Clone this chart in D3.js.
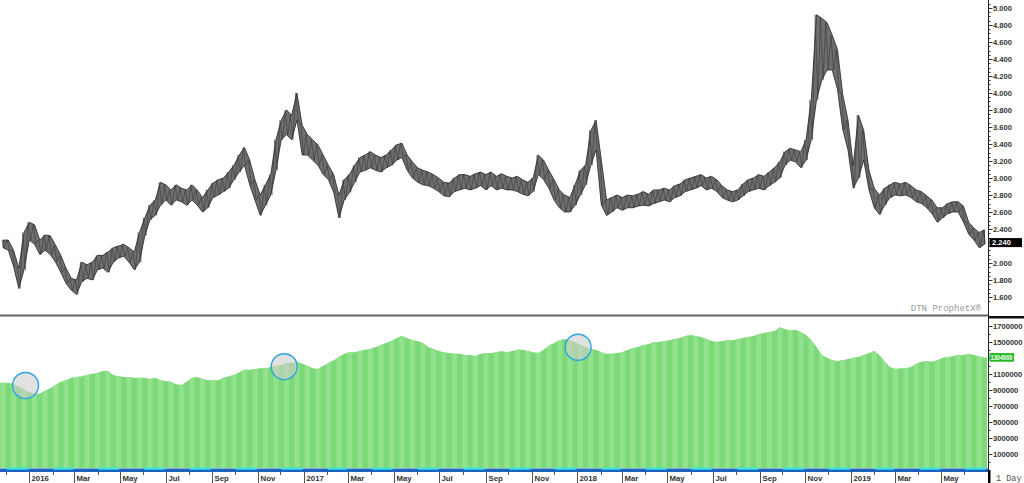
<!DOCTYPE html>
<html><head><meta charset="utf-8">
<script src="https://cdn.jsdelivr.net/npm/d3@7/dist/d3.min.js"></script>
<style>body{margin:0;background:#fff;}svg{display:block;}</style>
</head><body>
<svg id="chart" width="1024" height="483"></svg>
<script>
// ---------- DATA ----------
const firstWeekStart = [2015, 10, 27]; // weekly bars, one entry per week from this date
const priceHigh = [
2.27,2.27,2.15,1.94,2.36,2.48,2.45,2.27,2.33,2.32,
2.21,2.09,1.94,1.82,1.80,2.01,1.98,2.01,2.09,2.09,
2.13,2.18,2.20,2.22,2.18,2.13,2.36,2.53,2.68,2.74,
2.95,2.92,2.86,2.92,2.88,2.86,2.92,2.86,2.77,2.86,
2.94,2.98,3.00,3.07,3.15,3.27,3.36,3.21,2.98,2.80,
2.92,3.04,3.45,3.68,3.80,3.74,4.00,3.62,3.51,3.45,
3.39,3.27,3.15,3.04,2.80,2.98,3.04,3.15,3.24,3.27,
3.31,3.27,3.24,3.27,3.33,3.39,3.41,3.27,3.19,3.12,
3.09,3.07,3.04,3.00,2.95,2.94,3.00,3.04,3.04,3.02,
3.05,3.07,3.04,3.07,3.02,3.05,3.02,3.00,3.02,2.98,
2.95,3.00,3.27,3.21,3.09,2.98,2.86,2.80,2.77,2.92,
3.09,3.15,3.56,3.68,3.21,2.74,2.77,2.80,2.77,2.80,
2.79,2.81,2.84,2.81,2.86,2.86,2.88,2.86,2.91,2.93,
2.98,3.00,3.02,3.04,3.00,3.02,2.98,2.91,2.86,2.84,
2.86,2.93,2.98,3.00,3.04,3.02,3.07,3.12,3.19,3.31,
3.35,3.33,3.31,3.45,3.92,4.92,4.88,4.83,4.68,4.51,
3.98,3.68,3.15,3.74,3.56,3.09,2.88,2.80,2.88,2.92,
2.95,2.93,2.95,2.91,2.86,2.84,2.79,2.74,2.65,2.65,
2.70,2.72,2.72,2.67,2.48,2.41,2.36,2.39];
const priceLow = [
2.18,2.15,1.96,1.70,1.92,2.27,2.22,2.10,2.15,2.10,
2.01,1.89,1.76,1.68,1.63,1.78,1.82,1.80,1.92,1.94,
1.89,2.01,2.06,2.08,2.01,1.92,2.01,2.32,2.51,2.56,
2.68,2.74,2.68,2.74,2.72,2.68,2.74,2.68,2.60,2.65,
2.77,2.80,2.84,2.88,2.98,3.07,3.15,2.92,2.74,2.56,
2.68,2.80,3.09,3.45,3.51,3.45,3.68,3.27,3.27,3.21,
3.15,3.04,2.98,2.83,2.53,2.74,2.83,2.95,3.07,3.09,
3.12,3.09,3.07,3.12,3.15,3.21,3.24,3.09,3.00,2.95,
2.92,2.91,2.88,2.84,2.79,2.78,2.84,2.86,2.88,2.86,
2.88,2.91,2.86,2.91,2.86,2.88,2.86,2.86,2.84,2.81,
2.79,2.84,3.04,2.98,2.88,2.74,2.65,2.60,2.60,2.68,
2.80,2.92,3.15,3.33,2.68,2.56,2.60,2.65,2.62,2.65,
2.65,2.67,2.68,2.67,2.70,2.72,2.74,2.72,2.77,2.79,
2.84,2.86,2.88,2.91,2.86,2.88,2.84,2.77,2.74,2.72,
2.74,2.79,2.84,2.86,2.88,2.86,2.91,2.95,3.00,3.15,
3.21,3.19,3.12,3.21,3.45,3.92,4.15,4.27,4.27,4.04,
3.57,3.33,2.88,3.00,3.21,2.86,2.65,2.57,2.68,2.77,
2.80,2.79,2.80,2.77,2.72,2.70,2.65,2.58,2.48,2.53,
2.58,2.60,2.60,2.48,2.34,2.27,2.18,2.22];
const openInterest = [
990000,990000,970000,940000,900000,870000,850000,850000,890000,920000,
960000,1000000,1020000,1050000,1060000,1070000,1085000,1100000,1110000,1135000,
1135000,1085000,1070000,1060000,1060000,1050000,1050000,1050000,1035000,1050000,
1020000,1010000,1000000,970000,960000,1000000,1050000,1060000,1035000,1020000,
1020000,1020000,1050000,1070000,1085000,1120000,1150000,1150000,1160000,1170000,
1170000,1185000,1200000,1210000,1235000,1235000,1250000,1225000,1200000,1170000,
1160000,1200000,1235000,1270000,1310000,1350000,1370000,1370000,1385000,1400000,
1410000,1435000,1460000,1485000,1510000,1547000,1570000,1547000,1520000,1510000,
1485000,1435000,1410000,1385000,1370000,1360000,1350000,1350000,1335000,1335000,
1320000,1350000,1360000,1360000,1370000,1385000,1370000,1385000,1400000,1400000,
1385000,1370000,1360000,1400000,1450000,1485000,1520000,1535000,1520000,1497000,
1460000,1435000,1410000,1400000,1370000,1350000,1350000,1360000,1370000,1400000,
1420000,1435000,1460000,1470000,1497000,1497000,1510000,1520000,1535000,1547000,
1570000,1584000,1570000,1560000,1535000,1510000,1497000,1510000,1520000,1520000,
1535000,1547000,1560000,1570000,1597000,1610000,1620000,1634000,1680000,1660000,
1640000,1650000,1620000,1584000,1520000,1435000,1335000,1300000,1270000,1260000,
1270000,1285000,1300000,1310000,1335000,1360000,1385000,1335000,1250000,1185000,
1160000,1170000,1170000,1185000,1225000,1250000,1260000,1250000,1270000,1300000,
1310000,1320000,1335000,1335000,1350000,1335000,1320000,1304900];
const lastPrice = 2.240;
const lastOI = 1304900;
const priceTicks = [1.6,1.8,2.0,2.2,2.4,2.6,2.8,3.0,3.2,3.4,3.6,3.8,4.0,4.2,4.4,4.6,4.8,5.0];
const oiTicks = [100000,300000,500000,700000,900000,1100000,1300000,1500000,1700000];
const monthNames = ["Jan","Feb","Mar","Apr","May","Jun","Jul","Aug","Sep","Oct","Nov","Dec"];
const highlights = [
  {date:[2015,11,27], oi:955000},
  {date:[2016,11,6], oi:1189000},
  {date:[2018,0,2], oi:1431000}
];
const watermark = "DTN ProphetX\u00AE";
const periodLabel = "1 Day";

// ---------- LAYOUT ----------
const W = 1024, H = 483, axisX = 988.5;
const svg = d3.select("#chart");
const font = "'Liberation Sans', Arial, sans-serif";

const x = d3.scaleTime()
  .domain([new Date(2016,0,1), new Date(2019,0,1)])
  .range([29.3, 851]);
const yP = d3.scaleLinear().domain([1.6, 5.0]).range([297, 8]);
const yO = d3.scaleLinear().domain([100000, 1700000]).range([454, 325.7]);

const weeks = priceHigh.map((h,i)=>({
  date: new Date(firstWeekStart[0], firstWeekStart[1], firstWeekStart[2] + 7*i),
  hi: h, lo: priceLow[i], oi: openInterest[i], i
}));

// ---------- TOP PANEL: price ----------
const gTop = svg.append("g");
gTop.append("path")
  .datum(weeks)
  .attr("d", d3.area().x(d=>x(d.date)).y0(d=>yP(d.lo)).y1(d=>yP(d.hi)))
  .attr("fill","#6f6f6f").attr("stroke","#222").attr("stroke-width",0.8);
const zz = [];
weeks.forEach(d=>{ zz.push([x(d.date)-1.3, yP(d.hi)]); zz.push([x(d.date)+1.3, yP(d.lo)]); });
gTop.append("path").attr("d", d3.line()(zz)).attr("fill","none").attr("stroke","#2e2e2e").attr("stroke-width",0.5);

// watermark
svg.append("text").attr("x",981).attr("y",311).attr("text-anchor","end")
  .attr("font-family","'Liberation Mono', 'Courier New', monospace").attr("font-size",9)
  .attr("fill","#9a9a9a").text(watermark);

// ---------- BOTTOM PANEL: open interest ----------
const panelBottom = 468;
const gBot = svg.append("g");
const area = d3.area().x(d=>x(d.date)).y0(panelBottom).y1(d=>yO(d.oi));
const oiPts = [{date:x.invert(0), oi:openInterest[0]}].concat(weeks)
  .concat([{date:x.invert(987), oi:lastOI}]);
svg.append("clipPath").attr("id","oiclip").append("path").attr("d", area(oiPts));
gBot.append("path").attr("d", area(oiPts)).attr("fill","#7bd977");
const gStripes = gBot.append("g").attr("clip-path","url(#oiclip)");
weeks.forEach((d,i)=>{
  if (i%2===0) {
    gStripes.append("rect").attr("x",x(d.date) - 2.6).attr("y",316).attr("width",5.25).attr("height",panelBottom-316)
      .attr("fill","#91e18d");
  }
});

// highlight circles
svg.selectAll("circle.hl").data(highlights).join("circle")
  .attr("cx",d=>x(new Date(d.date[0],d.date[1],d.date[2])))
  .attr("cy",d=>yO(d.oi)).attr("r",13)
  .attr("fill","rgba(205,205,205,0.6)").attr("stroke","#2aa6de").attr("stroke-width",1.4);

// ---------- separators ----------
svg.append("rect").attr("x",0).attr("y",314.5).attr("width",axisX).attr("height",2).attr("fill","#666");
svg.append("rect").attr("x",axisX).attr("y",316).attr("width",W-axisX).attr("height",2.5).attr("fill","#111");

// ---------- bottom time band ----------
const months = d3.timeMonth.range(new Date(2015,10,1), new Date(2019,7,1));
svg.append("rect").attr("x",0).attr("y",468.5).attr("width",axisX).attr("height",3.5).attr("fill","#1a64c0");
months.forEach(m=>{
  const next = d3.timeMonth.offset(m,1);
  const a = Math.max(0,x(m)), b = Math.min(axisX,x(next));
  if (b<=a) return;
  if (m.getMonth()%2===1) {
    svg.append("rect").attr("x",a+1).attr("y",467.5).attr("width",b-a-2).attr("height",2.2).attr("fill","#3fe3e3");
  }
});
// x labels
const gX = svg.append("g");
months.forEach(m=>{
  const px = x(m);
  if (px < 0 || px > axisX-2) return;
  const labelled = m.getMonth()%2===0;
  gX.append("line").attr("x1",Math.round(px)+0.5).attr("x2",Math.round(px)+0.5)
    .attr("y1",472).attr("y2",labelled?483:475).attr("stroke","#555").attr("stroke-width",1);
  if (labelled) {
    gX.append("text").attr("x",Math.round(px)+2.5).attr("y",481)
      .attr("font-family",font).attr("font-weight","bold").attr("font-size",7.8).attr("fill","#333")
      .text(m.getMonth()===0 ? String(m.getFullYear()) : monthNames[m.getMonth()]);
  }
});

// ---------- right axes ----------
svg.append("line").attr("x1",axisX).attr("x2",axisX).attr("y1",0).attr("y2",470).attr("stroke","#222").attr("stroke-width",1);
d3.range(1.55, 5.051, 0.05).forEach(v=>{
  const yy = Math.round(yP(v))+0.5;
  if (yy<0 || yy>313) return;
  svg.append("line").attr("x1",axisX).attr("x2",axisX+2).attr("y1",yy).attr("y2",yy).attr("stroke","#333");
});
const lpY = yP(lastPrice);
const loY = yO(lastOI);
priceTicks.forEach(v=>{
  const yy = Math.round(yP(v))+0.5;
  svg.append("line").attr("x1",axisX).attr("x2",axisX+4).attr("y1",yy).attr("y2",yy).attr("stroke","#333");
  if (Math.abs(yP(v) - lpY) < 7) return;
  svg.append("text").attr("x",993).attr("y",yy+2.7).attr("font-family",font).attr("font-weight","bold")
    .attr("font-size",7.6).attr("fill","#333").text(d3.format(".3f")(v));
});
d3.range(0, 1750001, 100000).forEach(v=>{
  const yy = Math.round(yO(v))+0.5;
  if (yy<320 || yy>466) return;
  svg.append("line").attr("x1",axisX).attr("x2",axisX+2).attr("y1",yy).attr("y2",yy).attr("stroke","#333");
});
oiTicks.forEach(v=>{
  const yy = Math.round(yO(v))+0.5;
  svg.append("line").attr("x1",axisX).attr("x2",axisX+4).attr("y1",yy).attr("y2",yy).attr("stroke","#333");
  if (Math.abs(yO(v) - loY) < 7) return;
  svg.append("text").attr("x",993).attr("y",yy+2.7).attr("font-family",font).attr("font-weight","bold")
    .attr("font-size",7.6).attr("fill","#333").text(String(v));
});
// last price box
svg.append("rect").attr("x",axisX+1).attr("y",lpY-4.5).attr("width",W-axisX-3).attr("height",9).attr("fill","#000");
svg.append("text").attr("x",992).attr("y",lpY+2.7).attr("font-family",font).attr("font-weight","bold")
  .attr("font-size",7.6).attr("fill","#fff").text(d3.format(".3f")(lastPrice));
// last OI box
svg.append("rect").attr("x",axisX+1).attr("y",loY-4.3).attr("width",24.5).attr("height",8.6).attr("fill","#22b922");
svg.append("text").attr("x",990.5).attr("y",loY+2.4).attr("font-family",font).attr("font-weight","bold")
  .attr("font-size",6.6).attr("fill","#fff").attr("textLength",22).attr("lengthAdjust","spacingAndGlyphs")
  .text(String(lastOI));

// bottom-right period box
svg.append("rect").attr("x",axisX-0.5).attr("y",470).attr("width",2.5).attr("height",13).attr("fill","#000");
svg.append("text").attr("x",996).attr("y",480.5).attr("font-family","'Liberation Mono', 'Courier New', monospace")
  .attr("font-size",8.5).attr("fill","#555").text(periodLabel);
</script>
</body></html>
